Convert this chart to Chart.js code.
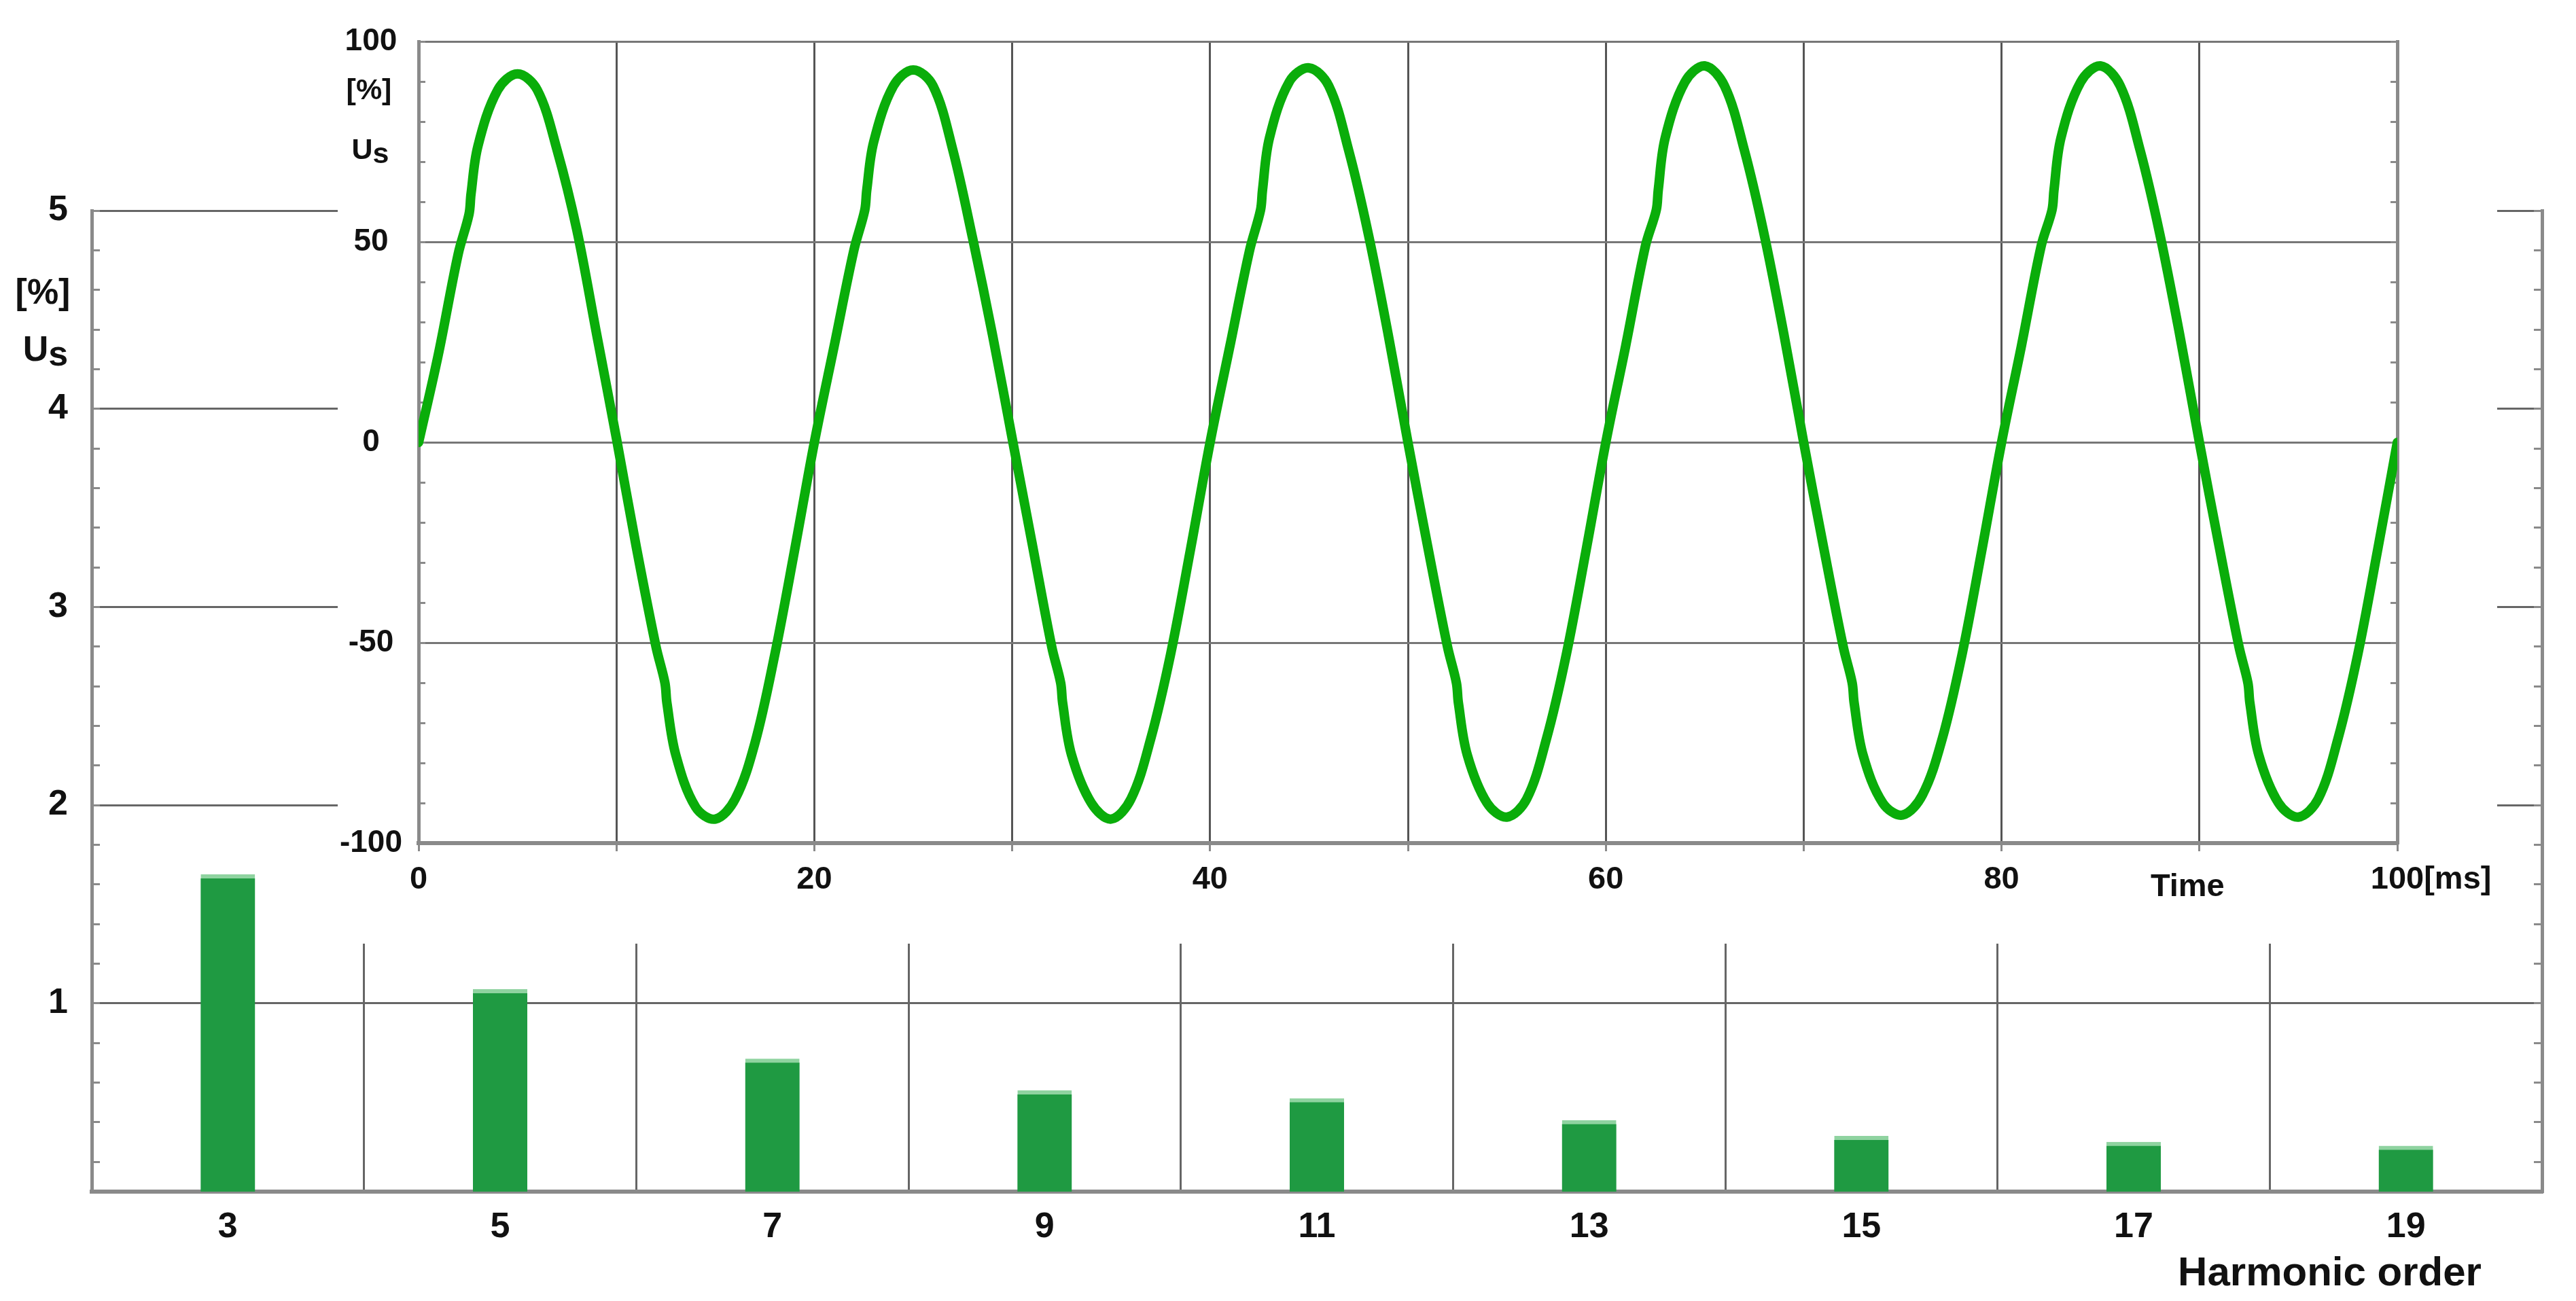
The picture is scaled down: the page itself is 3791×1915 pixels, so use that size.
<!DOCTYPE html>
<html>
<head>
<meta charset="utf-8">
<script src="https://cdn.jsdelivr.net/npm/chart.js@4.4.1/dist/chart.umd.min.js"></script>
<style>
   html, body { margin: 0; padding: 0; background: #fff; }
   #wrap { position: relative; width: 3791px; height: 1915px; overflow: hidden; }
   #bg { position: absolute; left: 0; top: 0; }
   #inset { position: absolute; left: 497px; top: 0; background: #fff; }
</style>
</head>
<body>
<div id="wrap">
   <canvas id="bg" width="3791" height="1915"></canvas>
   <canvas id="inset" width="3178" height="1389"></canvas>
</div>
<script>
// harmonic spectrum (background chart)
const harmonicOrders = [3, 5, 7, 9, 11, 13, 15, 17, 19];
const harmonicValues = [1.65, 1.07, 0.72, 0.56, 0.52, 0.41, 0.33, 0.30, 0.28];
const harmonicTickLabels = ['1', '2', '3', '4', '5'];

// voltage waveform (inset chart), time in ms, value in % of Us
const waveTimes = [
   0, 1, 2, 2.55, 2.65, 3, 4, 5, 6, 7, 8, 9, 10, 11, 12, 12.45, 12.55, 13, 14, 15, 16, 17, 18, 19,
   20, 21, 22, 22.55, 22.65, 23, 24, 25, 26, 27, 28, 29, 30, 31, 32, 32.45, 32.55, 33, 34, 35, 36, 37, 38, 39,
   40, 41, 42, 42.55, 42.65, 43, 44, 45, 46, 47, 48, 49, 50, 51, 52, 52.45, 52.55, 53, 54, 55, 56, 57, 58, 59,
   60, 61, 62, 62.55, 62.65, 63, 64, 65, 66, 67, 68, 69, 70, 71, 72, 72.45, 72.55, 73, 74, 75, 76, 77, 78, 79,
   80, 81, 82, 82.55, 82.65, 83, 84, 85, 86, 87, 88, 89, 90, 91, 92, 92.45, 92.55, 93, 94, 95, 96, 97, 98, 99,
   100
];
const waveValues = [
   0, 22, 47, 57, 62, 74, 88, 92, 88, 73, 53, 27, 1, -26, -51, -60, -65, -78, -91, -94, -89, -75, -53, -27,
   0, 24, 48, 58, 63, 75, 89, 93, 89, 73, 51, 27, 1, -25, -51, -60, -65, -78, -90, -94, -89, -74, -53, -27,
   0, 24, 48, 58, 63, 76, 90, 93.5, 89, 73, 52, 27, 0, -26, -51, -60, -65, -78, -90, -93.5, -89, -74, -53, -27,
   0, 24, 49, 58, 63, 76, 90, 94, 89, 73, 52, 27, 0, -26, -51, -60, -65, -78, -90, -93, -88, -74, -53, -27,
   0, 24, 49, 58, 63, 76, 90, 94, 89, 73, 52, 27, 0, -26, -51, -60, -65, -78, -90, -93.5, -89, -74, -53, -27,
   0
];
const timeTickLabels = ['0', '20', '40', '60', '80', '100'];
const voltTickLabels = ['-100', '-50', '0', '50', '100'];

const FONT = "'Liberation Sans', Arial, sans-serif";
const TEXT = '#111';
const GRID = '#666';
const AXIS = '#8a8a8a';

function drawText(ctx, text, x, y, size, align) {
   ctx.save();
   ctx.font = `bold ${size}px ${FONT}`;
   ctx.fillStyle = TEXT;
   ctx.textAlign = align || 'center';
   ctx.textBaseline = 'middle';
   ctx.fillText(text, x, y);
   ctx.restore();
}

// "Us" with the s sitting a bit lower
function drawUs(ctx, x, y, size) {
   ctx.save();
   ctx.font = `bold ${size}px ${FONT}`;
   ctx.fillStyle = TEXT;
   ctx.textBaseline = 'middle';
   ctx.textAlign = 'left';
   const wU = ctx.measureText('U').width, wS = ctx.measureText('s').width;
   const left = x - (wU + wS) / 2;
   ctx.fillText('U', left, y);
   ctx.fillText('s', left + wU, y + size * 0.13);
   ctx.restore();
}

function stepTicks(from, to, step) {
   const ticks = [];
   for (let v = from; v <= to + 1e-9; v += step) ticks.push({value: Math.round(v * 100) / 100});
   return ticks;
}

const bgLabels = {
   id: 'bgLabels',
   afterDraw(chart) {
      const ctx = chart.ctx, x = chart.scales.x, y = chart.scales.y;
      drawText(ctx, '[%]', 63, y.getPixelForValue(4.58), 52);
      drawUs(ctx, 67, y.getPixelForValue(4.29), 52);
      drawText(ctx, 'Harmonic order', x.getPixelForValue(18.44), chart.chartArea.bottom + 121, 60);
   }
};

const insetLabels = {
   id: 'insetLabels',
   afterDraw(chart) {
      const ctx = chart.ctx, x = chart.scales.x, y = chart.scales.y;
      const left = chart.chartArea.left, bottom = chart.chartArea.bottom;
      drawText(ctx, '[%]', left - 73, y.getPixelForValue(87.7), 43);
      drawUs(ctx, left - 71, y.getPixelForValue(72.7), 43);
      drawText(ctx, 'Time', x.getPixelForValue(89.4), bottom + 65, 47);
      ctx.save();
      ctx.font = `bold 47px ${FONT}`;
      const half = ctx.measureText('100').width / 2;
      ctx.restore();
      drawText(ctx, '[ms]', x.getPixelForValue(100) + half, bottom + 54, 47, 'left');
   }
};

new Chart(document.getElementById('bg'), {
   type: 'bar',
   data: {
      datasets: [{
         data: harmonicOrders.map((h, i) => ({x: h, y: harmonicValues[i]})),
         backgroundColor: '#1f9a42',
         borderColor: '#8fd3a0',
         borderWidth: {top: 6, left: 0, right: 0, bottom: 0},
         borderSkipped: 'start',
         barThickness: 80
      }]
   },
   options: {
      responsive: false,
      animation: false,
      layout: {padding: {top: 310, right: 50, left: 0, bottom: 0}},
      plugins: {legend: {display: false}, tooltip: {enabled: false}},
      scales: {
         x: {
            type: 'linear', min: 2, max: 20, offset: false,
            afterBuildTicks: s => { s.ticks = stepTicks(2, 20, 1); },
            afterFit: s => { s.height = 161; },
            grid: {
               offset: false, lineWidth: 3, drawTicks: false,
               color: c => (c.tick && c.tick.value % 2 === 0 && c.tick.value > 2 && c.tick.value < 20) ? GRID : 'transparent'
            },
            border: {color: AXIS, width: 6},
            ticks: {
               autoSkip: false, maxRotation: 0, padding: 21, color: TEXT,
               font: {family: FONT, size: 52, weight: 'bold'},
               callback: v => harmonicOrders.includes(v) ? String(v) : ''
            }
         },
         y: {
            min: 0.05, max: 5,
            afterBuildTicks: s => { s.ticks = [{value: 0.05}].concat(stepTicks(0.2, 5, 0.2)); },
            afterFit: s => { s.width = 135; },
            grid: {
               lineWidth: 3, tickLength: -12, tickWidth: 3, tickColor: AXIS,
               color: c => (c.tick && harmonicTickLabels.includes(String(c.tick.value))) ? GRID : 'transparent'
            },
            border: {color: AXIS, width: 5},
            ticks: {
               autoSkip: false, crossAlign: 'center', padding: 47, color: TEXT,
               font: {family: FONT, size: 52, weight: 'bold'},
               callback: v => harmonicTickLabels.includes(String(v)) ? String(v) : ''
            }
         },
         y2: {
            position: 'right', min: 0.05, max: 5,
            afterBuildTicks: s => { s.ticks = [{value: 0.05}].concat(stepTicks(0.2, 5, 0.2)); },
            afterFit: s => { s.width = 0; },
            grid: {drawOnChartArea: false, tickLength: -12, tickWidth: 3, tickColor: AXIS},
            border: {color: AXIS, width: 5},
            ticks: {display: false, autoSkip: false}
         }
      }
   },
   plugins: [bgLabels]
});

new Chart(document.getElementById('inset'), {
   type: 'line',
   data: {
      datasets: [{
         data: waveTimes.map((t, i) => ({x: t, y: waveValues[i]})),
         borderColor: '#0aad0a',
         borderWidth: 14,
         pointRadius: 0,
         tension: 0.35,
         borderJoinStyle: 'round',
         borderCapStyle: 'round'
      }]
   },
   options: {
      responsive: false,
      animation: false,
      layout: {padding: {top: 53, right: 147, left: 0, bottom: 0}},
      plugins: {legend: {display: false}, tooltip: {enabled: false}},
      scales: {
         x: {
            type: 'linear', min: 0, max: 100,
            afterBuildTicks: s => { s.ticks = stepTicks(0, 100, 10); },
            afterFit: s => { s.height = 148; },
            grid: {color: '#555', lineWidth: 3, tickLength: 12, tickWidth: 3, tickColor: AXIS},
            border: {color: AXIS, width: 6},
            ticks: {
               autoSkip: false, maxRotation: 0, padding: 14, color: TEXT,
               font: {family: FONT, size: 47, weight: 'bold'},
               callback: v => timeTickLabels.includes(String(v)) ? String(v) : ''
            }
         },
         y: {
            min: -100, max: 100,
            afterBuildTicks: s => { s.ticks = stepTicks(-100, 100, 10); },
            afterFit: s => { s.width = 119; },
            grid: {
               lineWidth: 3, tickLength: -10, tickWidth: 3, tickColor: AXIS,
               color: c => (c.tick && voltTickLabels.includes(String(c.tick.value))) ? '#777' : 'transparent'
            },
            border: {color: AXIS, width: 5},
            ticks: {
               autoSkip: false, crossAlign: 'center', padding: 34, color: TEXT,
               font: {family: FONT, size: 46, weight: 'bold'},
               callback: v => voltTickLabels.includes(String(v)) ? String(v) : ''
            }
         },
         y2: {
            position: 'right', min: -100, max: 100,
            afterBuildTicks: s => { s.ticks = stepTicks(-100, 100, 10); },
            afterFit: s => { s.width = 0; },
            grid: {drawOnChartArea: false, tickLength: -10, tickWidth: 3, tickColor: AXIS},
            border: {color: AXIS, width: 5},
            ticks: {display: false, autoSkip: false}
         }
      }
   },
   plugins: [insetLabels]
});
</script>
</body>
</html>
